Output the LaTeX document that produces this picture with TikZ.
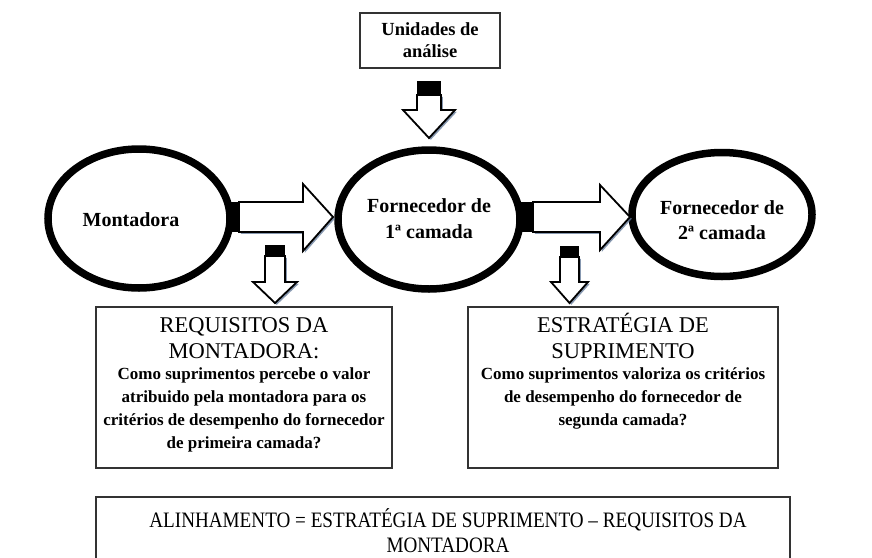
\documentclass[tikz,border=0pt]{standalone}
\usepackage{fontspec}
\setmainfont{Liberation Serif}
\newfontfamily\condfont[FakeStretch=0.87]{Liberation Serif}
\usetikzlibrary{shapes.geometric}
\definecolor{shadowc}{RGB}{95,118,150}
\newcommand\blockarrow[1]{\fill[shad,shift={(1.8,1.8)}] #1; \draw[blk] #1;}
\begin{document}
\begin{tikzpicture}[x=1pt,y=-1pt,
  oval/.style={ellipse, draw=black, line width=7.5pt, inner sep=0pt, outer sep=0pt},
  box/.style={draw=black!80, line width=1.6pt, fill=white, inner sep=0pt, outer sep=0pt, anchor=north west},
  blk/.style={draw=black, line width=1.8pt, fill=white, line join=miter},
  shad/.style={fill=shadowc, opacity=0.75},
  blackcap/.style={fill=black},
  ovt/.style={font=\fontsize{20}{20}\selectfont\bfseries, anchor=base, inner sep=0pt},
  hd/.style={font=\fontsize{22.5}{22.5}\selectfont, anchor=base, inner sep=0pt},
  bd/.style={font=\fontsize{17}{17}\selectfont\bfseries, anchor=base, inner sep=0pt},
  tp/.style={font=\fontsize{18.5}{18.5}\selectfont\bfseries, anchor=base, inner sep=0pt},
  bt/.style={font=\condfont\fontsize{22}{22}\selectfont, anchor=base, inner sep=0pt},
]
\useasboundingbox[fill=white] (0,0) rectangle (872,557);

% boxes
\node[box, minimum width=140pt, minimum height=55pt] (unid) at (360,13) {};
\node[box, minimum width=296pt, minimum height=161pt] (req) at (96,307) {};
\node[box, minimum width=310pt, minimum height=161pt] (estr) at (468,307) {};
\node[box, minimum width=694pt, minimum height=75pt] (alin) at (96,497) {};

% ellipses
\node[oval, minimum width=182pt, minimum height=139pt] (mont) at (139,218.5) {};
\node[oval, minimum width=182pt, minimum height=139pt] (forn1) at (429,219.5) {};
\node[oval, minimum width=180pt, minimum height=124pt] (forn2) at (722,214.5) {};

% block arrows
\blockarrow{(239,202)--(303,202)--(303,184)--(333,217)--(303,251)--(303,232)--(239,232)--cycle}
\fill[blackcap] (229,202) rectangle (239,232);
\blockarrow{(533,202)--(600,202)--(600,185)--(630,217)--(600,250)--(600,232)--(533,232)--cycle}
\fill[blackcap] (520,202) rectangle (533,232);
\blockarrow{(417,95)--(441,95)--(441,110)--(455,110)--(429,138)--(403,110)--(417,110)--cycle}
\fill[blackcap] (417,81) rectangle (441,95);
\blockarrow{(265,256)--(285,256)--(285,282)--(297,282)--(275,303)--(253,282)--(265,282)--cycle}
\fill[blackcap] (265,245) rectangle (285,256);
\blockarrow{(560,257)--(579,257)--(579,282)--(588,282)--(569.5,303)--(551,282)--(560,282)--cycle}
\fill[blackcap] (560,246) rectangle (579,257);

% texts
\node[tp] (u1) at (430,35) {Unidades de};
\node[tp] (u2) at (430,57) {análise};
\node[ovt] (m1) at (131,226) {Montadora};
\node[ovt] (f1a) at (429,212) {Fornecedor de};
\node[ovt] (f1b) at (429,238) {1ª camada};
\node[ovt] (f2a) at (722,214) {Fornecedor de};
\node[ovt] (f2b) at (722,239) {2ª camada};

\node[hd] (r1) at (244,332) {REQUISITOS DA};
\node[hd] (r2) at (244,358) {MONTADORA:};
\node[bd] (r3) at (244,379) {Como suprimentos percebe o valor};
\node[bd] (r4) at (244,402) {atribuido pela montadora para os};
\node[bd] (r5) at (244,425) {critérios de desempenho do fornecedor};
\node[bd] (r6) at (244,448) {de primeira camada?};

\node[hd] (e1) at (623,332) {ESTRATÉGIA DE};
\node[hd] (e2) at (623,358) {SUPRIMENTO};
\node[bd] (e3) at (623,379) {Como suprimentos valoriza os critérios};
\node[bd] (e4) at (623,402) {de desempenho do fornecedor de};
\node[bd] (e5) at (623,425) {segunda camada?};

\node[bt] (a1) at (448,527) {ALINHAMENTO = ESTRATÉGIA DE SUPRIMENTO – REQUISITOS DA};
\node[bt] (a2) at (448,552) {MONTADORA};
\end{tikzpicture}
\end{document}
